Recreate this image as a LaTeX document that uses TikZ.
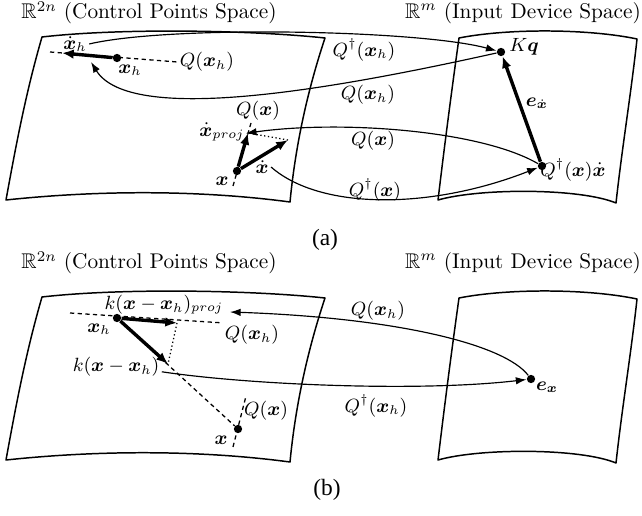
\documentclass[tikz,border=0pt]{standalone}
\usepackage{amsmath,amssymb,bm}
\usepackage{fontspec}
\newfontfamily\capfont{Liberation Serif}
\usetikzlibrary{arrows.meta}

\begin{document}
\begin{tikzpicture}[x=0.47pt, y=-0.47pt,
    sheet/.style={line width=0.7pt, line join=round},
    map/.style={line width=0.55pt, -{Latex[length=5pt,width=3.5pt]}},
    vec/.style={line width=1.6pt, -{Latex[length=5.5pt,width=4.5pt]}},
    sub/.style={line width=0.6pt, dash pattern=on 2pt off 1.6pt},
    perp/.style={line width=0.6pt, dash pattern=on 0.6pt off 1.2pt},
    ctrldot/.style={circle, fill=black, inner sep=0pt, minimum size=3.9pt},
    lab/.style={inner sep=1pt, font=\fontsize{8.8}{10}\selectfont},
    captext/.style={font=\capfont\fontsize{11}{13}\selectfont}]
    \useasboundingbox (0,0) rectangle (642,516);

    % (a)
    \draw[sheet] (42,37) .. controls (120,28) and (250,30) .. (325,38) .. controls (306,95) and (295,150) .. (290,202) .. controls (200,190) and (100,190) .. (6,200) .. controls (16,145) and (26,92) .. (42,37) -- cycle;
    \draw[sheet] (459,38) .. controls (510,28) and (590,29) .. (637,39) .. controls (631,94) and (622,148) .. (616,203) .. controls (580,188) and (480,188) .. (438,200) .. controls (444,150) and (451,95) .. (459,38) -- cycle;
    \node (tLa) at (149,13) {$\mathbb{R}^{2n}$ (Control Points Space)};
    \node (tRa) at (523,13) {$\mathbb{R}^{m}$ (Input Device Space)};
    \node[ctrldot] (xha) at (117,58) {};
    \node[ctrldot] (xa) at (237,171) {};
    \node[ctrldot] (kq) at (501,52) {};
    \node[ctrldot] (qxd) at (542,166) {};
    \coordinate (xhdt) at (62,53);
    \coordinate (xhl0) at (50,52);
    \coordinate (xhin) at (91,62);
    \coordinate (xpt) at (248,133);
    \coordinate (xdt) at (288,140);
    \coordinate (qa1) at (233,186);
    \coordinate (qa2) at (251,123);
    \node[lab] (xhal) at (130,70) {$\bm{x}_h$};
    \node[lab] (xhdl) at (75,44) {$\dot{\bm{x}}_h$};
    \node[lab] (qxhl) at (207,62) {$Q(\bm{x}_h)$};
    \node[lab] (qxl) at (258,111) {$Q(\bm{x})$};
    \node[lab] (xpl) at (222,132) {$\dot{\bm{x}}_{proj}$};
    \node[lab] (xal) at (222,181) {$\bm{x}$};
    \node[lab] (xdl) at (262,167) {$\dot{\bm{x}}$};
    \node[lab] (kql) at (524,47) {$K\bm{q}$};
    \node[lab] (qxdl) at (573,170) {$Q^{\dagger}(\bm{x})\dot{\bm{x}}$};
    \node[lab] (el) at (537,103) {$\bm{e}_{\dot{\bm{x}}}$};
    \node[lab] (m1) at (364,50) {$Q^{\dagger}(\bm{x}_h)$};
    \node[lab] (m2) at (368,95) {$Q(\bm{x}_h)$};
    \node[lab] (m3) at (373,141) {$Q(\bm{x})$};
    \node[lab] (m4) at (375,190) {$Q^{\dagger}(\bm{x})$};
    \node[captext] (capa) at (325,240) {(a)};
    \draw[sub] (xhl0) -- (qxhl.west);
    \draw[vec] (xha) -- (xhdt);
    \draw[sub] (qa1) -- (qa2);
    \draw[perp] (xdt) -- (xpt);
    \draw[vec] (xa) -- (xpt);
    \draw[vec] (xa) -- (xdt);
    \draw[vec] (qxd) -- (kq);
    \draw[map] (xhdl.east) .. controls (170,25) and (420,30) .. (kq);
    \draw[map] (kq) .. controls (330,90) and (130,125) .. (xhin);
    \draw[map, shorten >=-1pt] (qxd) .. controls (480,130) and (340,120) .. (xpt);
    \draw[map] (xdl.east) .. controls (320,210) and (430,210) .. (qxd);

    % (b)
    \draw[sheet] (42,297) .. controls (120,288) and (250,290) .. (325,298) .. controls (306,355) and (295,410) .. (290,462) .. controls (200,450) and (100,450) .. (6,460) .. controls (16,405) and (26,352) .. (42,297) -- cycle;
    \draw[sheet] (459,298) .. controls (510,288) and (590,289) .. (637,299) .. controls (631,354) and (622,408) .. (616,463) .. controls (580,448) and (480,448) .. (438,460) .. controls (444,410) and (451,355) .. (459,298) -- cycle;
    \node (tLb) at (149,263) {$\mathbb{R}^{2n}$ (Control Points Space)};
    \node (tRb) at (523,263) {$\mathbb{R}^{m}$ (Input Device Space)};
    \node[ctrldot] (xhb) at (117,318) {};
    \node[ctrldot] (xb) at (238,429) {};
    \node[ctrldot] (ex) at (531,379) {};
    \coordinate (pb) at (177,323);
    \coordinate (kb) at (168,364);
    \coordinate (lb0) at (70,313);
    \coordinate (qb1) at (233,447);
    \coordinate (qb2) at (246,396);
    \coordinate (kpin) at (230,312);
    \node[lab] (xhbl) at (99,329) {$\bm{x}_h$};
    \node[lab] (kpl) at (164,305) {$k(\bm{x}-\bm{x}_h)_{proj}$};
    \node[lab] (kl) at (116,367) {$k(\bm{x}-\bm{x}_h)$};
    \node[lab] (qxhbl) at (252,335) {$Q(\bm{x}_h)$};
    \node[lab] (qxbl) at (266,411) {$Q(\bm{x})$};
    \node[lab] (xbl) at (221,440) {$\bm{x}$};
    \node[lab] (exl) at (547,387) {$\bm{e}_{\bm{x}}$};
    \node[lab] (m5) at (378,311) {$Q(\bm{x}_h)$};
    \node[lab] (m6) at (376,406) {$Q^{\dagger}(\bm{x}_h)$};
    \node[captext] (capb) at (327,490) {(b)};
    \draw[sub] (lb0) -- (qxhbl.north west);
    \draw[sub] (xhb) -- (xb);
    \draw[sub] (qb1) -- (qb2);
    \draw[perp] (pb) -- (kb);
    \draw[vec] (xhb) -- (pb);
    \draw[vec] (xhb) -- (kb);
    \draw[map] (ex) .. controls (505,345) and (400,318) .. (kpin);
    \draw[map] (kl.base east) .. controls (250,385) and (420,392) .. (ex);
\end{tikzpicture}
\end{document}
